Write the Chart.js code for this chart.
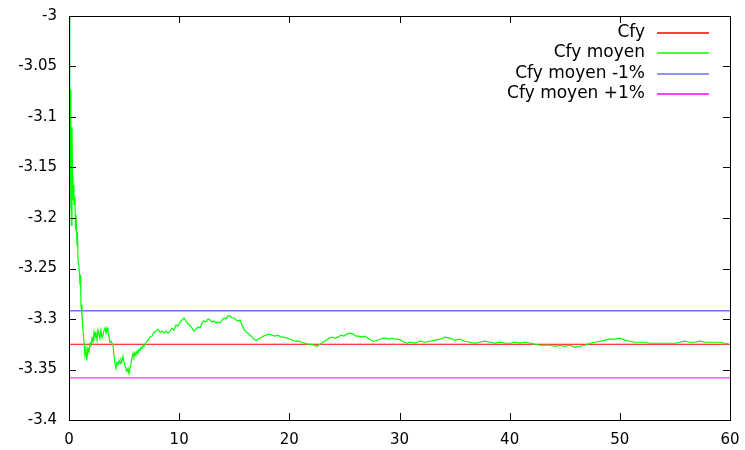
<!DOCTYPE html>
<html>
<head>
<meta charset="utf-8">
<script src="https://cdn.jsdelivr.net/npm/chart.js@4"></script>
<style>
  html, body { margin: 0; padding: 0; background: #fff; }
  canvas { display: block; }
</style>
</head>
<body>
<canvas id="cfyChart" width="745" height="450"></canvas>
<script>
// data
const seriesNames = ['Cfy', 'Cfy moyen', 'Cfy moyen -1%', 'Cfy moyen +1%'];
const seriesColors = ['#ff0000', '#00ff00', '#6f6fff', '#ff00ff'];

const lineX = [0, 60];
const cfy = [-3.325, -3.325];
const cfyMinus1 = [-3.2918, -3.2918];
const cfyPlus1 = [-3.3583, -3.3583];

const moyenX = [
  0.00, 0.05, 0.09, 0.12, 0.15, 0.18, 0.22, 0.27, 0.32, 0.36, 0.41, 0.45, 0.54, 0.59, 0.64, 0.73, 0.77, 0.82, 0.91, 1.00,
  1.04, 1.09, 1.18, 1.27, 1.36, 1.45, 1.54, 1.61, 1.72, 1.82, 1.91, 2.00, 2.09, 2.18, 2.27, 2.36, 2.45, 2.54, 2.63, 2.72,
  2.81, 2.90, 3.00, 3.09, 3.18, 3.27, 3.36, 3.45, 3.54, 3.63, 3.72, 3.81, 3.90, 3.99, 4.08, 4.18, 4.27, 4.36, 4.45, 4.54,
  4.63, 4.72, 4.81, 4.90, 4.99, 5.08, 5.17, 5.26, 5.36, 5.45, 5.54, 5.63, 5.72, 5.81, 5.90, 5.99, 6.08, 6.17, 6.26, 6.35,
  6.44, 6.54, 6.63, 6.72, 6.81, 6.99, 7.17, 7.35, 7.53, 7.72, 7.90, 8.08, 8.26, 8.44, 8.62, 8.80, 8.99, 9.17, 9.35, 9.53,
  9.71, 9.89, 10.08, 10.26, 10.44, 10.62, 10.80, 10.98, 11.16, 11.35, 11.53, 11.71, 11.89, 12.07, 12.25, 12.43, 12.62, 12.80, 12.98, 13.16,
  13.34, 13.52, 13.71, 13.89, 14.07, 14.25, 14.43, 14.61, 14.80, 14.98, 15.16, 15.34, 15.52, 15.70, 15.88, 16.07, 16.25, 16.43, 16.61, 16.79,
  16.97, 17.16, 17.34, 17.61, 17.88, 18.15, 18.43, 18.70, 18.97, 19.24, 19.52, 19.79, 20.06, 20.33, 20.60, 20.88, 21.15, 21.42, 21.69, 21.97,
  22.24, 22.51, 22.78, 23.06, 23.33, 23.60, 23.87, 24.14, 24.42, 24.69, 24.96, 25.23, 25.51, 25.78, 26.05, 26.32, 26.59, 26.87, 27.14, 27.41,
  27.68, 27.96, 28.23, 28.50, 28.77, 29.05, 29.32, 29.59, 29.86, 30.14, 30.41, 30.68, 30.95, 31.41, 31.86, 32.31, 32.77, 33.22, 33.68, 34.13,
  34.58, 35.04, 35.49, 35.94, 36.40, 36.85, 37.31, 37.76, 38.21, 38.67, 39.12, 39.58, 40.03, 40.48, 40.94, 41.39, 41.84, 42.30, 42.75, 43.21,
  43.66, 44.11, 44.57, 45.02, 45.47, 45.93, 46.38, 46.84, 47.29, 47.74, 48.20, 48.65, 49.11, 49.56, 50.01, 50.47, 50.92, 51.38, 51.83, 52.28,
  52.74, 53.19, 53.65, 54.10, 54.55, 55.01, 55.46, 55.91, 56.37, 56.82, 57.28, 57.73, 58.18, 58.64, 59.09, 59.55, 59.91
];
const moyenY = [
  -3.000, -3.024, -3.133, -3.073, -3.192, -3.148, -3.207, -3.110, -3.158, -3.182, -3.167, -3.187, -3.182, -3.212, -3.197, -3.227, -3.214, -3.242, -3.249, -3.266,
  -3.256, -3.286, -3.296, -3.311, -3.323, -3.336, -3.329, -3.341, -3.329, -3.333, -3.324, -3.326, -3.319, -3.323, -3.313, -3.318, -3.314, -3.321, -3.311, -3.315,
  -3.319, -3.311, -3.318, -3.316, -3.311, -3.309, -3.314, -3.309, -3.313, -3.317, -3.323, -3.322, -3.324, -3.325, -3.336, -3.345, -3.349, -3.343, -3.345, -3.341,
  -3.344, -3.340, -3.342, -3.337, -3.342, -3.346, -3.349, -3.352, -3.349, -3.354, -3.348, -3.344, -3.339, -3.334, -3.337, -3.333, -3.336, -3.332, -3.334, -3.330,
  -3.331, -3.328, -3.329, -3.326, -3.327, -3.323, -3.321, -3.318, -3.317, -3.313, -3.312, -3.310, -3.313, -3.312, -3.314, -3.312, -3.314, -3.312, -3.309, -3.311,
  -3.306, -3.307, -3.303, -3.301, -3.299, -3.302, -3.305, -3.306, -3.309, -3.312, -3.310, -3.308, -3.309, -3.304, -3.302, -3.303, -3.300, -3.301, -3.303, -3.302,
  -3.304, -3.303, -3.304, -3.301, -3.299, -3.300, -3.297, -3.297, -3.299, -3.299, -3.301, -3.302, -3.301, -3.306, -3.310, -3.313, -3.314, -3.316, -3.318, -3.320,
  -3.321, -3.320, -3.319, -3.317, -3.316, -3.315, -3.316, -3.317, -3.316, -3.318, -3.318, -3.319, -3.320, -3.321, -3.322, -3.322, -3.323, -3.324, -3.325, -3.325,
  -3.326, -3.327, -3.325, -3.323, -3.321, -3.319, -3.318, -3.319, -3.318, -3.316, -3.317, -3.315, -3.314, -3.315, -3.317, -3.317, -3.318, -3.317, -3.319, -3.321,
  -3.322, -3.321, -3.320, -3.319, -3.319, -3.320, -3.319, -3.320, -3.320, -3.321, -3.323, -3.324, -3.323, -3.324, -3.322, -3.323, -3.322, -3.321, -3.320, -3.318,
  -3.319, -3.321, -3.320, -3.322, -3.323, -3.324, -3.323, -3.322, -3.323, -3.324, -3.323, -3.324, -3.324, -3.323, -3.324, -3.323, -3.324, -3.325, -3.326, -3.326,
  -3.326, -3.327, -3.326, -3.327, -3.326, -3.328, -3.327, -3.326, -3.324, -3.323, -3.322, -3.321, -3.320, -3.320, -3.319, -3.321, -3.322, -3.323, -3.323, -3.323,
  -3.324, -3.324, -3.324, -3.324, -3.324, -3.324, -3.323, -3.322, -3.323, -3.323, -3.322, -3.323, -3.323, -3.323, -3.323, -3.324, -3.325
];

const xTicks = [0, 10, 20, 30, 40, 50, 60];
const xTickLabels = ['0', '10', '20', '30', '40', '50', '60'];
const yTicks = [-3.4, -3.35, -3.3, -3.25, -3.2, -3.15, -3.1, -3.05, -3];
const yTickLabels = ['-3.4', '-3.35', '-3.3', '-3.25', '-3.2', '-3.15', '-3.1', '-3.05', '-3'];

const FONT = { family: 'DejaVu Sans', size: 15 };
const LEGEND_FONT = '17px "DejaVu Sans"';

function pairs(xs, ys) {
  return xs.map((x, i) => ({ x: x, y: ys[i] }));
}

// no extra room for overhanging labels, the layout padding handles it
function noPad(s) {
  s.paddingLeft = 0; s.paddingRight = 0; s.paddingTop = 0; s.paddingBottom = 0;
}

// gnuplot style frame with inward ticks on all sides + legend in the top right corner
const framePlugin = {
  id: 'frame',
  afterDatasetsDraw(chart) {
    const ctx = chart.ctx;
    const a = chart.chartArea;
    const xs = chart.scales.x, ys = chart.scales.y;
    const len = 7;
    ctx.save();
    ctx.strokeStyle = '#000';
    ctx.lineWidth = 1;
    ctx.beginPath();
    xTicks.forEach(v => {
      const px = Math.round(xs.getPixelForValue(v)) + 0.5;
      ctx.moveTo(px, a.bottom); ctx.lineTo(px, a.bottom - len);
      ctx.moveTo(px, a.top); ctx.lineTo(px, a.top + len);
    });
    yTicks.forEach(v => {
      const py = Math.round(ys.getPixelForValue(v)) + 0.5;
      ctx.moveTo(a.left, py); ctx.lineTo(a.left + len, py);
      ctx.moveTo(a.right, py); ctx.lineTo(a.right - len, py);
    });
    ctx.stroke();
    ctx.strokeRect(Math.round(a.left) + 0.5, Math.round(a.top) + 0.5,
      Math.round(a.right - a.left), Math.round(a.bottom - a.top));

    // legend
    ctx.font = LEGEND_FONT;
    ctx.textAlign = 'right';
    ctx.textBaseline = 'middle';
    seriesNames.forEach((name, i) => {
      const yy = Math.round(33 + i * 20.3);
      ctx.fillStyle = '#000';
      ctx.fillText(name, 645, yy);
      ctx.strokeStyle = seriesColors[i];
      ctx.lineWidth = 1.3;
      ctx.beginPath();
      ctx.moveTo(657, yy);
      ctx.lineTo(709, yy);
      ctx.stroke();
    });
    ctx.restore();
  }
};

const ctx = document.getElementById('cfyChart').getContext('2d');
new Chart(ctx, {
  type: 'line',
  data: {
    datasets: [
      { label: seriesNames[0], data: pairs(lineX, cfy), borderColor: seriesColors[0], borderWidth: 1, order: 3 },
      { label: seriesNames[1], data: pairs(moyenX, moyenY), borderColor: seriesColors[1], borderWidth: 1.2, order: 1 },
      { label: seriesNames[2], data: pairs(lineX, cfyMinus1), borderColor: seriesColors[2], borderWidth: 1.5, order: 2 },
      { label: seriesNames[3], data: pairs(lineX, cfyPlus1), borderColor: seriesColors[3], borderWidth: 1, order: 2 }
    ]
  },
  options: {
    responsive: false,
    animation: false,
    elements: { point: { radius: 0 }, line: { tension: 0 } },
    layout: { padding: { top: 16, right: 15, left: 0, bottom: 0 } },
    plugins: { legend: { display: false }, tooltip: { enabled: false } },
    scales: {
      x: {
        type: 'linear',
        min: 0,
        max: 60,
        afterBuildTicks: s => { s.ticks = xTicks.map(v => ({ value: v })); },
        afterFit: s => { s.height = 30; noPad(s); },
        grid: { display: false, drawTicks: false },
        border: { display: false },
        ticks: {
          color: '#000',
          font: FONT,
          padding: 11,
          maxRotation: 0,
          callback: (v, i) => xTickLabels[i]
        }
      },
      y: {
        type: 'linear',
        min: -3.4,
        max: -3,
        afterBuildTicks: s => { s.ticks = yTicks.map(v => ({ value: v })); },
        afterFit: s => { s.width = 69; noPad(s); },
        grid: { display: false, drawTicks: false },
        border: { display: false },
        ticks: {
          color: '#000',
          font: FONT,
          padding: 12,
          callback: (v, i) => yTickLabels[i]
        }
      }
    }
  },
  plugins: [framePlugin]
});
</script>
</body>
</html>
